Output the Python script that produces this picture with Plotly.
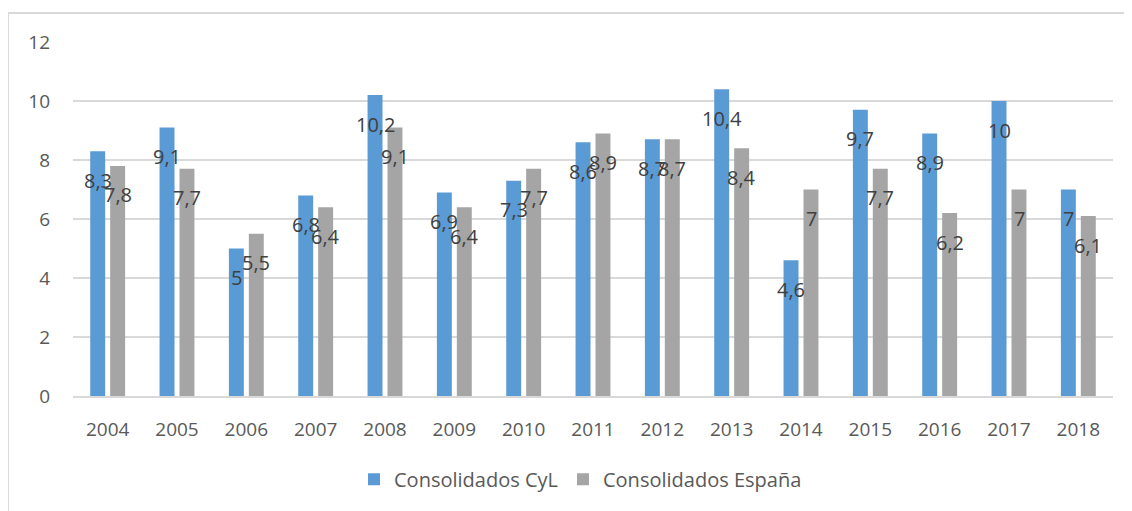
import plotly.graph_objects as go

years = ["2004", "2005", "2006", "2007", "2008", "2009", "2010", "2011",
         "2012", "2013", "2014", "2015", "2016", "2017", "2018"]
cyl = [8.3, 9.1, 5, 6.8, 10.2, 6.9, 7.3, 8.6, 8.7, 10.4, 4.6, 9.7, 8.9, 10, 7]
esp = [7.8, 7.7, 5.5, 6.4, 9.1, 6.4, 7.7, 8.9, 8.7, 8.4, 7, 7.7, 6.2, 7, 6.1]
series_names = ["Consolidados CyL", "Consolidados España"]
colors = ["#5B9BD5", "#A5A5A5"]

FONT = "Open Sans"

def fmt(v):
    s = ("%g" % v)
    return s.replace(".", ",")

fig = go.Figure()
for name, vals, col in zip(series_names, [cyl, esp], colors):
    fig.add_trace(go.Bar(x=years, y=vals, name=name, marker_color=col,
                         marker_line_width=0))

annotations = []
for vals, shift in [(cyl, -10), (esp, 10)]:
    for i, v in enumerate(vals):
        annotations.append(dict(x=i, y=v, xref="x", yref="y", text=fmt(v),
                                showarrow=False, xshift=shift, yshift=-29,
                                xanchor="center", yanchor="middle",
                                font=dict(family=FONT, size=20, color="#404040")))

fig.update_layout(
    width=1124, height=503,
    margin=dict(l=65, r=19, t=34, b=115),
    paper_bgcolor="white", plot_bgcolor="white",
    barmode="group", bargap=0.425, bargroupgap=0.25,
    font=dict(family=FONT, size=19, color="#595959"),
    showlegend=True,
    legend=dict(orientation="h", x=0.488, xanchor="center", y=-0.18, yanchor="top",
                font=dict(family=FONT, size=20, color="#595959"),
                itemwidth=30, traceorder="normal"),
    annotations=annotations,
    shapes=[dict(type="rect", xref="paper", yref="paper",
                 x0=-0.0625, x1=1.2, y0=-0.5, y1=1.0819,
                 line=dict(color="#D9D9D9", width=2), fillcolor="rgba(0,0,0,0)",
                 layer="below")],
)
fig.update_yaxes(range=[0, 12], dtick=2, showgrid=True, gridcolor="#D9D9D9",
                 gridwidth=1.5, zeroline=False, showline=False, ticks="",
                 ticklabelstandoff=22, tickfont=dict(size=19, color="#595959"))
fig.update_xaxes(type="category", range=[-0.5, len(years) - 0.5], showgrid=False,
                 showline=True, linecolor="#D9D9D9", linewidth=1.5, ticks="",
                 ticklabelstandoff=15, tickfont=dict(size=19, color="#595959"))

fig.write_html("out.html")
